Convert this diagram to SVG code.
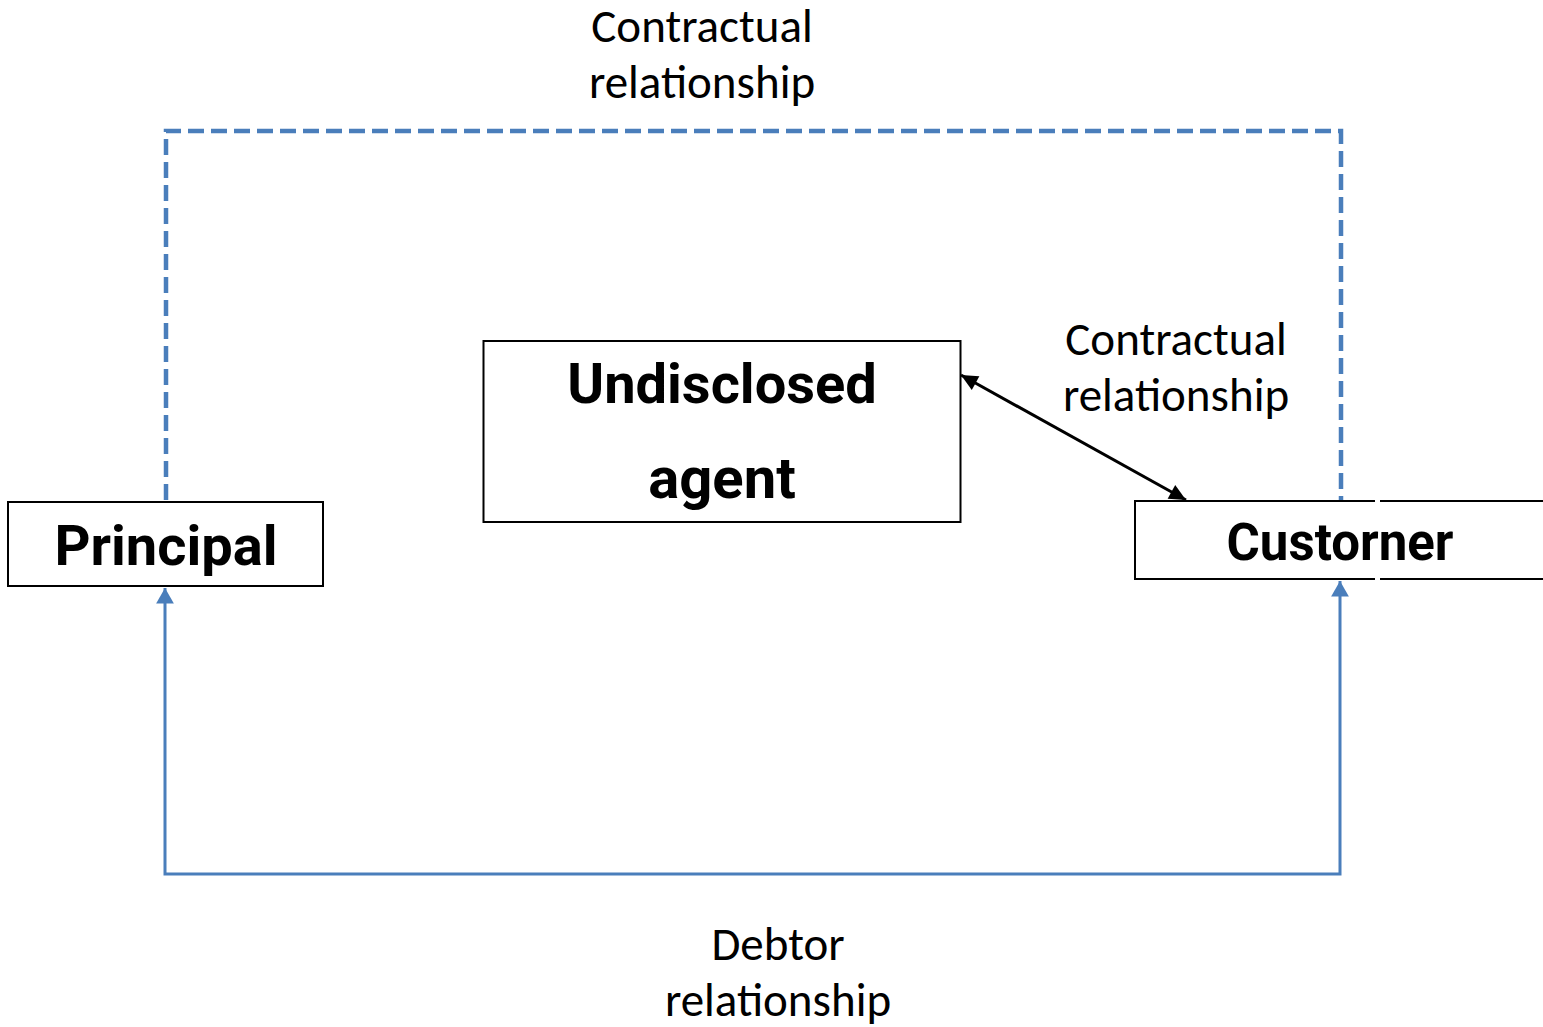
<svg xmlns="http://www.w3.org/2000/svg" width="1543" height="1027" viewBox="0 0 1543 1027">
<style>
.box{fill:#fff;stroke:#000;stroke-width:2}
.edge{fill:none;stroke:#000;stroke-width:2}
.bold{font-family:Roboto,"Liberation Sans",sans-serif;font-weight:700;fill:#000;text-anchor:middle}
.lbl{font-family:Carlito,Lato,"Liberation Sans",sans-serif;font-size:47px;fill:#000;text-anchor:middle}
.dash{fill:none;stroke:#4A7EBB;stroke-width:4.5;stroke-dasharray:16 7}
.solid{fill:none;stroke:#4A7EBB;stroke-width:3}
.black{fill:none;stroke:#000;stroke-width:3}
</style>
<defs>
<marker id="blueArrow" markerUnits="userSpaceOnUse" markerWidth="20" markerHeight="20" viewBox="-15 -9 16 18" refX="0" refY="0" orient="auto-start-reverse">
<path d="M0,0 L-14,-8 L-14,8 Z" fill="#4A7EBB"/>
</marker>
<marker id="blackArrow" markerUnits="userSpaceOnUse" markerWidth="20" markerHeight="20" viewBox="-15 -9 16 18" refX="0" refY="0" orient="auto-start-reverse">
<path d="M0,0 L-15,-7 L-15,7 Z" fill="#000"/>
</marker>
</defs>
<rect width="1543" height="1027" fill="#fff"/>
<g id="principal">
<rect class="box" x="8" y="502" width="315" height="84"/>
<text class="bold" x="166" y="565" font-size="56">Principal</text>
</g>
<g id="agent">
<rect class="box" x="483.5" y="341" width="477" height="181"/>
<text class="bold" x="722" y="403" font-size="56">Undisclosed</text>
<text class="bold" x="722" y="498" font-size="58">agent</text>
</g>
<g id="customer">
<rect x="1135" y="501" width="410" height="78" fill="#fff"/>
<path class="edge" d="M1375,501 H1135 V579 H1375 M1380,501 H1545 M1380,579 H1545"/>
<text class="bold" x="1340" y="560" font-size="51">Custorner</text>
</g>
<g id="connectors">
<path class="dash" d="M166,500 V131 H1341 V500"/>
<path class="solid" d="M165,588 V874 H1340 V581" marker-start="url(#blueArrow)" marker-end="url(#blueArrow)"/>
<line class="black" x1="961" y1="375" x2="1186" y2="500" marker-start="url(#blackArrow)" marker-end="url(#blackArrow)"/>
</g>
<g id="labels">
<text class="lbl" x="702" y="42">Contractual</text>
<text class="lbl" x="702" y="98">relationship</text>
<text class="lbl" x="1176" y="355">Contractual</text>
<text class="lbl" x="1176" y="411">relationship</text>
<text class="lbl" x="778" y="960">Debtor</text>
<text class="lbl" x="778" y="1016">relationship</text>
</g>
</svg>
